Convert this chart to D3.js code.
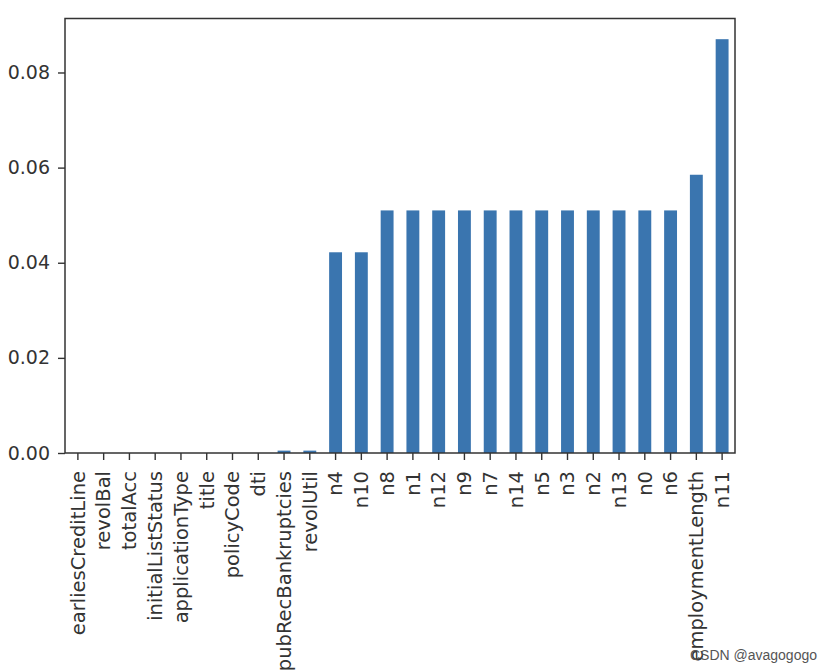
<!DOCTYPE html>
<html><head><meta charset="utf-8">
<script src="https://cdn.jsdelivr.net/npm/d3@7"></script>
<style>body{margin:0;background:#fff;} svg{display:block;}</style>
</head><body>
<script>
const categories = ["earliesCreditLine","revolBal","totalAcc","initialListStatus","applicationType","title","policyCode","dti","pubRecBankruptcies","revolUtil","n4","n10","n8","n1","n12","n9","n7","n14","n5","n3","n2","n13","n0","n6","employmentLength","n11"];
const values = [0,0,0,0,0,0,0,0,0.0005,0.0005,0.0422,0.0422,0.0510,0.0510,0.0510,0.0510,0.0510,0.0510,0.0510,0.0510,0.0510,0.0510,0.0510,0.0510,0.0585,0.0870];
const yTicks = [0,0.02,0.04,0.06,0.08];

const W=832,H=672;
const m={left:65,top:18.5,right:735,bottom:453};
const svg=d3.select("body").append("svg").attr("width",W).attr("height",H);
const font="DejaVu Sans";

const x=d3.scaleBand().domain(categories).range([m.left,m.right]).paddingInner(0.5).paddingOuter(0.25);
const yMax=d3.max(values)*1.05;
const y=d3.scaleLinear().domain([0,yMax]).range([m.bottom,m.top]);

svg.append("g").selectAll("rect").data(values).join("rect")
  .attr("x",(d,i)=>x(categories[i]))
  .attr("width",x.bandwidth())
  .attr("y",d=>y(d))
  .attr("height",d=>y(0)-y(d))
  .attr("fill","#3a75af");

const yAxis=svg.append("g").attr("transform",`translate(${m.left},0)`)
  .call(d3.axisLeft(y).tickValues(yTicks).tickFormat(d3.format(".2f")).tickSize(7).tickPadding(8));
const xAxis=svg.append("g").attr("transform",`translate(0,${m.bottom})`)
  .call(d3.axisBottom(x).tickSize(7).tickPadding(8));
[yAxis,xAxis].forEach(g=>{
  g.select(".domain").remove();
  g.selectAll("line").attr("stroke","#333").attr("stroke-width",1.4);
  g.selectAll("text").attr("font-family",font).attr("font-size",19).attr("fill","#333");
});
xAxis.selectAll("text")
  .attr("font-size",19.5)
  .attr("transform","rotate(-90)")
  .attr("text-anchor","end")
  .attr("x",-18).attr("y",0).attr("dy","0.35em");

svg.append("rect").attr("x",m.left).attr("y",m.top)
  .attr("width",m.right-m.left).attr("height",m.bottom-m.top)
  .attr("fill","none").attr("stroke","#333").attr("stroke-width",1.5);

svg.append("text").attr("x",817).attr("y",660).attr("text-anchor","end")
  .attr("font-family","Liberation Sans").attr("font-size",14).attr("fill","#555")
  .text("CSDN @avagogogo");
</script>
</body></html>
